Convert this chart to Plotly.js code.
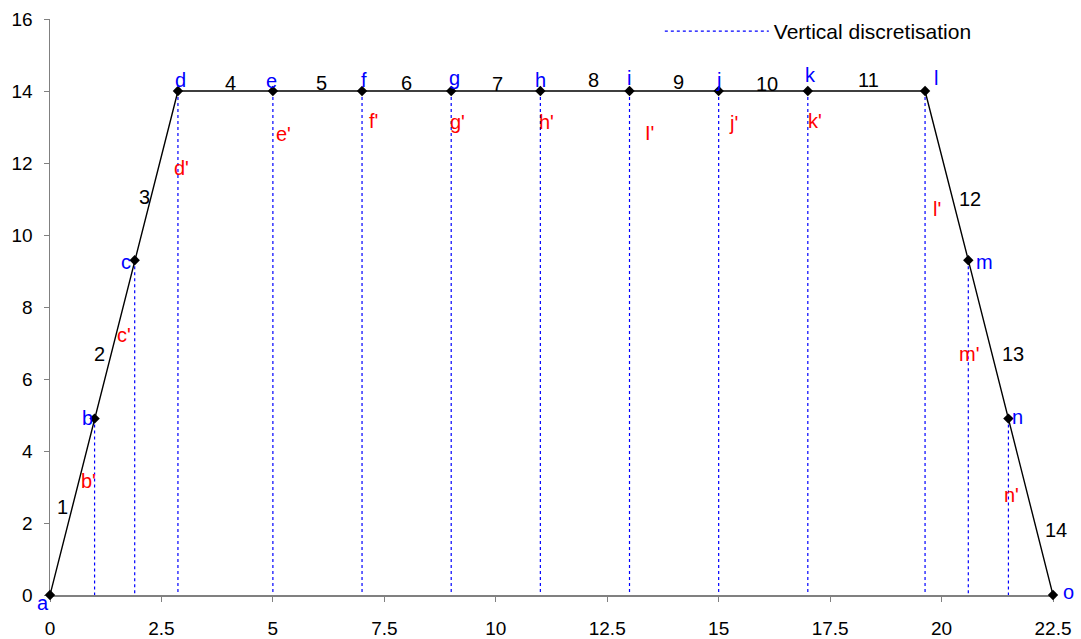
<!DOCTYPE html>
<html>
<head>
<meta charset="utf-8">
<script src="https://cdn.plot.ly/plotly-3.0.1.min.js"></script>
<style>
  html, body { margin: 0; padding: 0; background: #fff; }
  #chart { width: 1081px; height: 639px; }
</style>
</head>
<body>
<div id="chart"></div>
<script>
// Section outline: vertices of the trapezoid
const pointX = [0, 1.0, 1.9, 2.87, 5, 7, 9, 11, 13, 15, 17, 19.63, 20.6, 21.5, 22.5];
const pointY = [0, 4.9, 9.3, 14, 14, 14, 14, 14, 14, 14, 14, 14, 9.3, 4.9, 0];
const pointNames = ["a", "b", "c", "d", "e", "f", "g", "h", "i", "j", "k", "l", "m", "n", "o"];

// Vertices that carry a vertical discretisation line down to the base
const verticalIdx = [1, 2, 3, 4, 5, 6, 7, 8, 9, 10, 11, 12, 13];

// Label placements (data coordinates, kept inside the axis ranges)
const nameLabelX = [0, 0.85, 1.7, 2.92, 4.96, 7.04, 9.08, 11.01, 12.99, 15.0, 17.05, 19.87, 20.97, 21.71, 22.5];
const nameLabelY = [0, 4.92, 9.25, 14.3, 14.28, 14.3, 14.36, 14.3, 14.36, 14.3, 14.44, 14.36, 9.25, 4.94, 0.08];
// extra pixel offsets for labels sitting on the axis edges
const nameShiftX = [-7, 0, 0, 0, 0, 0, 0, 0, 0, 0, 0, 0, 0, 0, 15];
const nameShiftY = [-8, 0, 0, 0, 0, 0, 0, 0, 0, 0, 0, 0, 0, 0, 0];

const primeLabels = ["b'", "c'", "d'", "e'", "f'", "g'", "h'", "I'", "j'", "k'", "l'", "m'", "n'"];
const primeLabelX = [0.87, 1.66, 2.94, 5.23, 7.25, 9.15, 11.13, 13.44, 15.34, 17.16, 19.9, 20.61, 21.56];
const primeLabelY = [3.17, 7.22, 11.86, 12.8, 13.17, 13.14, 13.14, 12.83, 13.1, 13.17, 10.72, 6.69, 2.78];

const segmentLabels = ["1", "2", "3", "4", "5", "6", "7", "8", "9", "10", "11", "12", "13", "14"];
const segmentLabelX = [0.27, 1.1, 2.11, 4.04, 6.1, 7.99, 10.03, 12.2, 14.09, 16.08, 18.35, 20.64, 21.6, 22.5];
const segmentLabelY = [2.44, 6.69, 11.06, 14.22, 14.22, 14.22, 14.2, 14.3, 14.25, 14.2, 14.3, 11.0, 6.69, 1.8];
const segmentShiftX = [0, 0, 0, 0, 0, 0, 0, 0, 0, 0, 0, 0, 0, 3];

const xTicks = [0, 2.5, 5, 7.5, 10, 12.5, 15, 17.5, 20, 22.5];
const yTicks = [0, 2, 4, 6, 8, 10, 12, 14, 16];

const FONT = "Liberation Sans, Arial, sans-serif";

// Vertical lines as one trace, segments separated by nulls
const vx = [], vy = [];
verticalIdx.forEach(i => {
  vx.push(pointX[i], pointX[i], null);
  vy.push(pointY[i], 0, null);
});

const traces = [
  {
    x: vx, y: vy,
    mode: "lines",
    name: "Vertical discretisation",
    line: { color: "#0000ff", width: 1.2, dash: "3px,3px" },
    hoverinfo: "skip",
    cliponaxis: false
  },
  {
    x: pointX, y: pointY,
    mode: "lines+markers",
    showlegend: false,
    line: { color: "#000000", width: 1.4 },
    marker: { symbol: "diamond", size: 8, color: "#000000" },
    cliponaxis: false
  }
];

const annotations = [];
pointNames.forEach((t, i) => annotations.push({
  x: nameLabelX[i], y: nameLabelY[i], text: t, showarrow: false,
  xshift: nameShiftX[i], yshift: nameShiftY[i],
  font: { family: FONT, size: 20, color: "#0000ff" }
}));
primeLabels.forEach((t, i) => annotations.push({
  x: primeLabelX[i], y: primeLabelY[i], text: t, showarrow: false,
  font: { family: FONT, size: 20, color: "#ff0000" }
}));
segmentLabels.forEach((t, i) => annotations.push({
  x: segmentLabelX[i], y: segmentLabelY[i], text: t, showarrow: false,
  xshift: segmentShiftX[i],
  font: { family: FONT, size: 20, color: "#000000" }
}));

const layout = {
  width: 1081, height: 639,
  margin: { l: 50, r: 28, t: 19, b: 44, autoexpand: false },
  paper_bgcolor: "#ffffff",
  plot_bgcolor: "#ffffff",
  font: { family: FONT, size: 19, color: "#000000" },
  showlegend: true,
  legend: {
    x: 0.608, y: 1.014, xanchor: "left", yanchor: "top",
    bgcolor: "rgba(0,0,0,0)",
    itemwidth: 104,
    font: { family: FONT, size: 21, color: "#000000" }
  },
  xaxis: {
    range: [0, 22.5],
    tickvals: xTicks,
    ticktext: xTicks.map(String),
    showgrid: false, zeroline: false,
    showline: true, linecolor: "#808080", linewidth: 1.5,
    ticks: "outside", ticklen: 5, tickcolor: "#808080",
    ticklabelstandoff: 11,
    automargin: false,
    layer: "below traces",
    tickfont: { family: FONT, size: 19, color: "#000000" }
  },
  yaxis: {
    range: [0, 16],
    tickvals: yTicks,
    showgrid: false, zeroline: false,
    showline: true, linecolor: "#808080", linewidth: 1.5,
    ticks: "outside", ticklen: 5, tickcolor: "#808080",
    ticklabelstandoff: 7,
    automargin: false,
    layer: "below traces",
    tickfont: { family: FONT, size: 19, color: "#000000" }
  },
  annotations: annotations
};

Plotly.newPlot("chart", traces, layout, { displayModeBar: false, staticPlot: true });
</script>
</body>
</html>
